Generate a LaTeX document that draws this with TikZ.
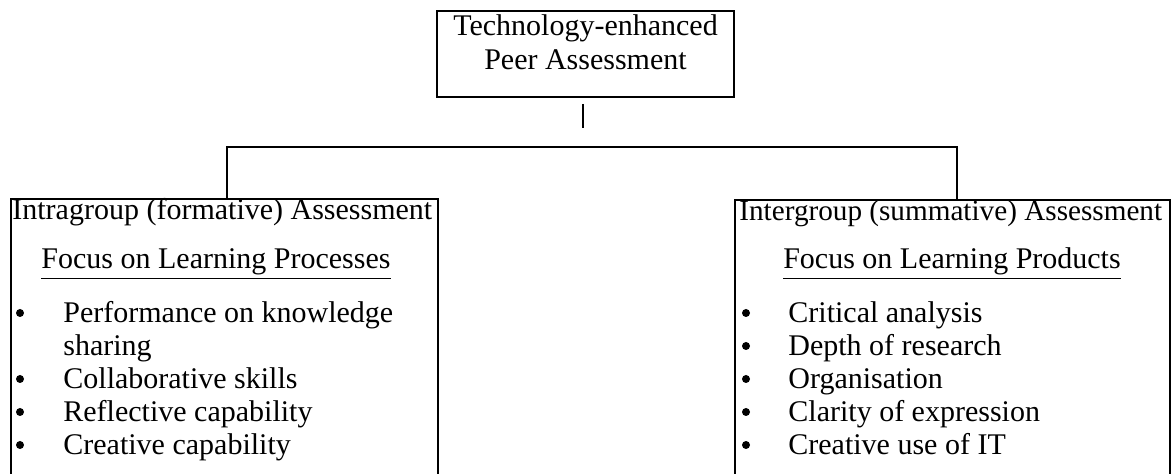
\documentclass[tikz,border=0pt]{standalone}
\usepackage{fontspec}
\setmainfont{Liberation Serif}
\usetikzlibrary{positioning}

\begin{document}
\begin{tikzpicture}[x=0.5pt,y=-0.5pt,
  every node/.style={font=\fontsize{15}{17}\selectfont},
  box/.style={draw,line width=0.9pt,inner sep=0pt},
  txt/.style={anchor=base west,inner sep=0pt},
  dot/.style={circle,fill,inner sep=0pt,minimum size=4pt},
  ln/.style={line width=0.9pt}]
 \clip (0,0) rectangle (1172,474);
 \node[box,minimum width=148.5pt,minimum height=43pt] (top) at (585.5,54) {};
 \node[inner sep=0pt,anchor=base] (t1) at (585.5,36) {Technology-enhanced};
 \node[inner sep=0pt,anchor=base] (t2) at (585.5,70) {Peer Assessment};
 \coordinate (s1) at (583,104); \coordinate (s2) at (583,128);
 \draw[ln] (s1) -- (s2);
 % two assessment boxes, open at the bottom
 \node[box,anchor=north west,minimum width=213.5pt,minimum height=200pt] (lbox) at (10,198) {};
 \node[box,anchor=north west,minimum width=217.5pt,minimum height=200pt] (rbox) at (734,199) {};
 \coordinate (bl) at (227,147); \coordinate (br) at (957,147);
 \draw[ln] (lbox.north -| bl) -- (bl) -- (br) -- (rbox.north -| br);
 % left column
 \node[txt] (lh) at (12,220) {Intragroup (formative) Assessment};
 \node[inner sep=0pt,anchor=base] (lf) at (216,269) {\underline{Focus on Learning Processes}};
 \foreach \t [count=\i] in {Performance on knowledge,Collaborative skills,Reflective capability,Creative capability}{
   \pgfmathsetmacro{\yy}{\i==1 ? 323 : 323+33*\i}
   \node[dot] (lb\i) at (20,\yy-10) {};
   \node[txt] (li\i) at (63,\yy) {\t};
 }
 \node[txt] (li1b) at (63,356) {sharing};
 % right column
 \node[txt,font=\fontsize{14.6}{17}\selectfont] (rh) at (739,221) {Intergroup (summative) Assessment};
 \node[inner sep=0pt,anchor=base] (rf) at (952,269) {\underline{Focus on Learning Products}};
 \foreach \t [count=\i] in {Critical analysis,Depth of research,Organisation,Clarity of expression,Creative use of IT}{
   \pgfmathsetmacro{\yy}{290+33*\i}
   \node[dot] (rb\i) at (746,\yy-10) {};
   \node[txt] (ri\i) at (788,\yy) {\t};
 }
\end{tikzpicture}
\end{document}
